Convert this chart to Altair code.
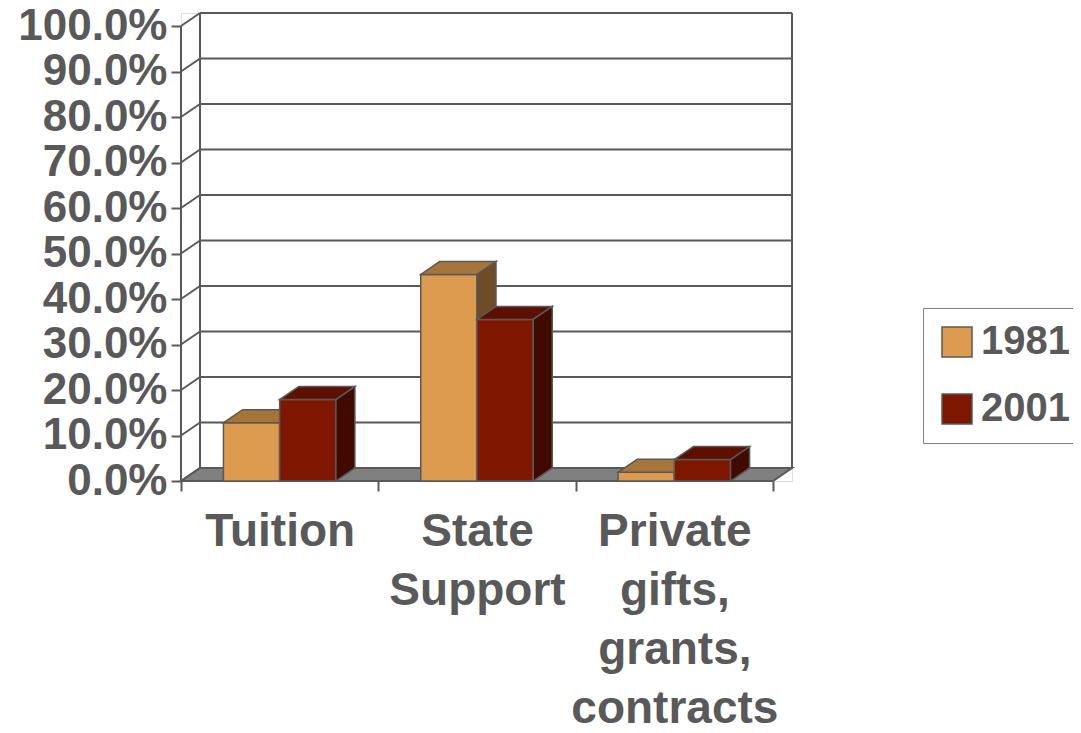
import json
import altair as alt
import pandas as pd

# ---------------- data ----------------
categories = ["Tuition", "State Support", "Private gifts, grants, contracts"]
category_lines = [["Tuition"], ["State", "Support"], ["Private", "gifts,", "grants,", "contracts"]]
series = ["1981", "2001"]
values_1981 = [12.8, 45.4, 1.9]
values_2001 = [17.9, 35.5, 4.7]
y_ticks = [0, 10, 20, 30, 40, 50, 60, 70, 80, 90, 100]

# ---------------- style ----------------
FONT = "Liberation Sans"
INK = "#595959"
front_colors = ["#DD9B50", "#7E1600"]
top_colors = ["#A6753A", "#5E1000"]
side_colors = ["#6E4C27", "#400A00"]
BAR_W = 0.285      # bar width in category units
DX = 0.0963        # 3D depth, x (category units)
DY = 2.86          # 3D depth, y (percent units)
N = len(categories)
YMAX = 100

values = {"1981": values_1981, "2001": values_2001}

# ---------------- derived tables ----------------
front_rows, top_rows, side_rows = [], [], []
for si, s in enumerate(series):
    for ci, cat in enumerate(categories):
        v = values[s][ci]
        x0 = ci + 0.5 - BAR_W + si * BAR_W
        x1 = x0 + BAR_W
        bid = f"{s}-{ci}"
        front_rows.append(dict(series=s, cat=cat, x0=x0, x1=x1, y0=0, v=v))
        top_rows.append(dict(series=s, bar=bid, yv=v, xa=x0, xb=x1, c=top_colors[si]))
        top_rows.append(dict(series=s, bar=bid, yv=v + DY, xa=x0 + DX, xb=x1 + DX, c=top_colors[si]))
        side_rows.append(dict(series=s, bar=bid, xs=x1, ylo=0, yhi=v, c=side_colors[si]))
        side_rows.append(dict(series=s, bar=bid, xs=x1 + DX, ylo=DY, yhi=v + DY, c=side_colors[si]))
front_df = pd.DataFrame(front_rows)
top_df = pd.DataFrame(top_rows)
side_df = pd.DataFrame(side_rows)

grid_df = pd.DataFrame([dict(x=DX, x2=N + DX, y=t + DY, y2=t + DY) for t in y_ticks])
diag_df = pd.DataFrame([dict(x=0, x2=DX, y=t, y2=t + DY) for t in y_ticks])
wall_df = pd.DataFrame([dict(x=DX, x2=DX, y=DY, y2=YMAX + DY),
                        dict(x=N + DX, x2=N + DX, y=DY, y2=YMAX + DY),
                        dict(x=0, x2=0, y=0, y2=YMAX)])
floor_df = pd.DataFrame([dict(fy=0, fa=0, fb=N), dict(fy=DY, fa=DX, fb=N + DX)])

# ---------------- scales / axes ----------------
xs = alt.Scale(domain=[0, N + DX], nice=False, zero=False)
ys = alt.Scale(domain=[0, YMAX + DY], nice=False, zero=False)

lines_json = json.dumps(category_lines).replace('"', "'")
x_axis = alt.Axis(
    title=None, domain=False, grid=False,
    values=[i * 0.5 for i in range(2 * N + 1)],
    labelExpr=f"datum.value % 1 === 0 ? '' : {lines_json}[floor(datum.value)]",
    tickSize=10, tickWidth=2, tickColor=INK,
    tickOpacity={"condition": {"test": "datum.value % 1 !== 0", "value": 0}, "value": 1},
    labelFont=FONT, labelFontSize=46, labelFontWeight="bold", labelColor=INK,
    labelLineHeight=59, labelPadding=18, labelOverlap=False, labelFlush=False,
    labelAlign="center", labelBaseline="top", labelLimit=0,
)
y_axis = alt.Axis(
    title=None, domain=False, grid=False, values=y_ticks,
    labelExpr="format(datum.value, '.1f') + '%'",
    tickSize=10, tickWidth=2, tickColor=INK,
    labelFont=FONT, labelFontSize=44, labelFontWeight="bold", labelColor=INK,
    labelPadding=4, labelOverlap=False, labelLimit=0,
)


def X(f):
    return alt.X(f, type="quantitative", scale=xs, axis=x_axis)


def Y(f):
    return alt.Y(f, type="quantitative", scale=ys, axis=y_axis)


layers = []
# back wall gridlines
layers.append(alt.Chart(grid_df).mark_rule(color=INK, strokeWidth=2).encode(
    x=X("x"), x2="x2", y=Y("y"), y2="y2"))
# floor
layers.append(alt.Chart(floor_df).mark_area(
    orient="horizontal", color="#808080", stroke=INK, strokeWidth=2, opacity=1).encode(
    y=Y("fy"), x=X("fa"), x2="fb"))
# diagonals from front axis to wall
layers.append(alt.Chart(diag_df).mark_rule(color=INK, strokeWidth=2).encode(
    x=X("x"), x2="x2", y=Y("y"), y2="y2"))
# wall edges & front axis line
layers.append(alt.Chart(wall_df).mark_rule(color=INK, strokeWidth=2).encode(
    x=X("x"), x2="x2", y=Y("y"), y2="y2"))

legend = alt.Legend(
    title=None, orient="none", legendX=742, legendY=295,
    symbolType="square", symbolSize=900, symbolStrokeColor=INK, symbolStrokeWidth=1.5,
    labelFont=FONT, labelFontSize=40, labelFontWeight="bold", labelColor=INK,
    padding=14, rowPadding=27, labelOffset=4, strokeColor="#808080", labelLimit=0,
)

for si, s in enumerate(series):
    layers.append(alt.Chart(front_df).transform_filter(alt.datum.series == s).mark_rect(
        stroke=INK, strokeWidth=1.5, opacity=1).encode(
        x=X("x0"), x2="x1", y=Y("y0"), y2="v",
        color=alt.Color("series:N", scale=alt.Scale(domain=series, range=front_colors), legend=legend)))
    layers.append(alt.Chart(top_df).transform_filter(alt.datum.series == s).mark_area(
        orient="horizontal", stroke=INK, strokeWidth=1.5, opacity=1).encode(
        y=Y("yv"), x=X("xa"), x2="xb", detail="bar:N",
        color=alt.Color("c:N", scale=None)))
    layers.append(alt.Chart(side_df).transform_filter(alt.datum.series == s).mark_area(
        orient="vertical", stroke=INK, strokeWidth=1.5, opacity=1).encode(
        x=X("xs"), y=Y("yhi"), y2="ylo", detail="bar:N",
        color=alt.Color("c:N", scale=None)))

chart = alt.layer(*layers).properties(
    width=611, height=468,
    autosize=alt.AutoSizeParams(type="none"),
    padding={"left": 173, "top": 5, "right": 281, "bottom": 248},
).configure_view(stroke=None).configure(background="white")

chart.save("out.html", embed_options={"renderer": "svg", "actions": False})
